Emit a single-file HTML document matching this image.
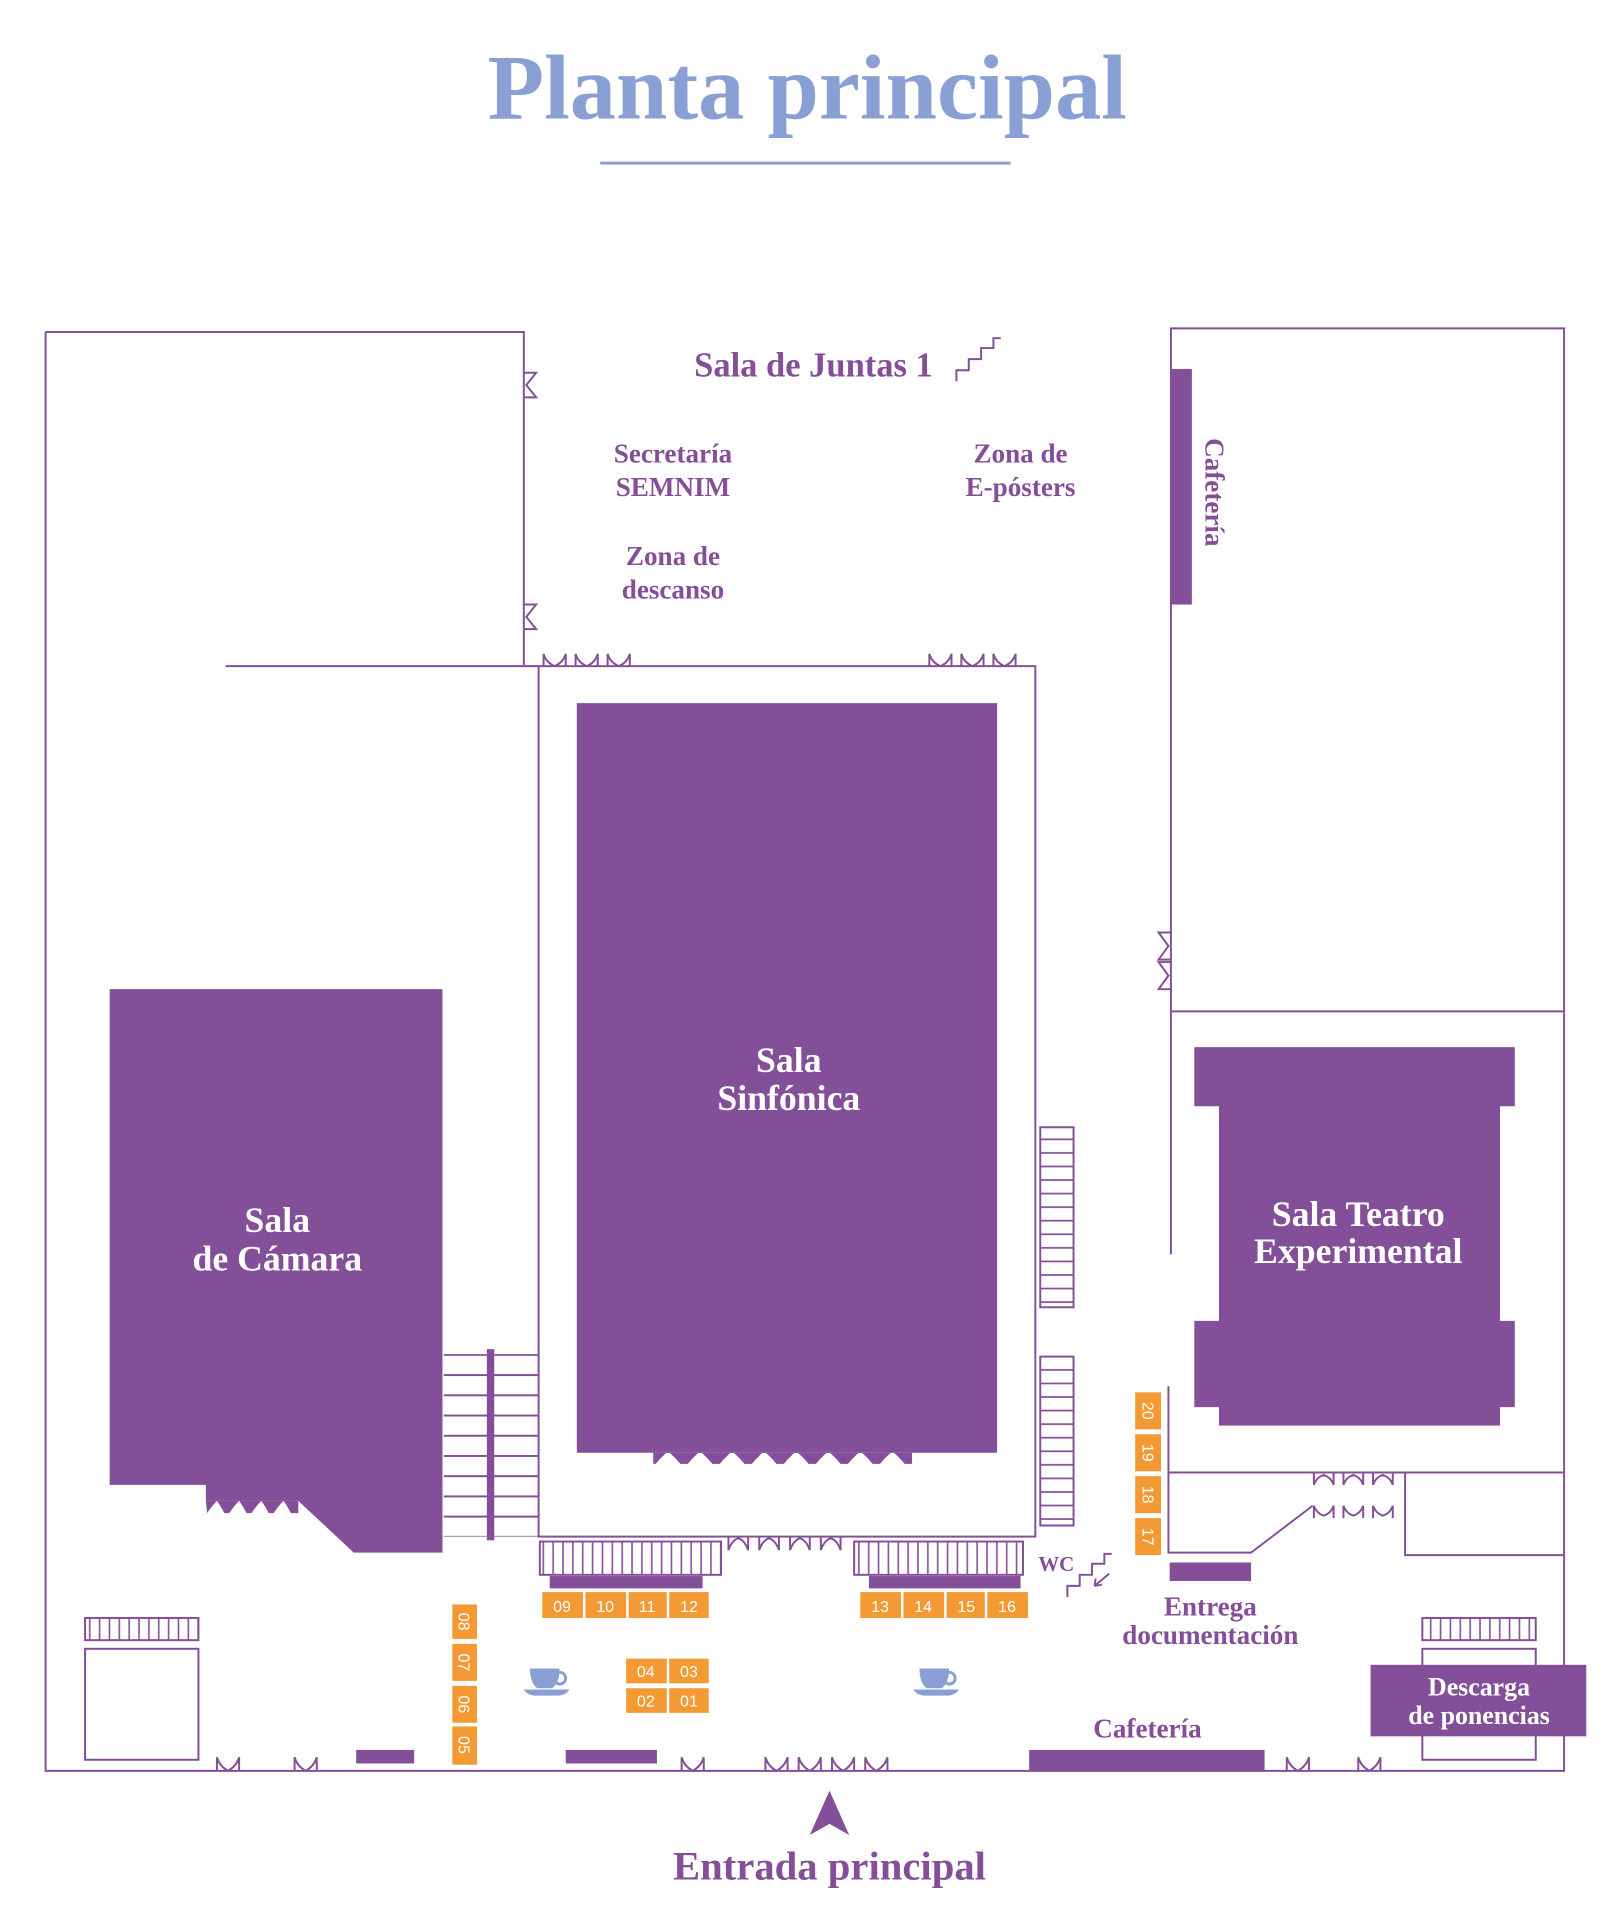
<!DOCTYPE html>
<html><head><meta charset="utf-8"><style>
html,body{margin:0;padding:0;background:#fff}
svg{display:block}
text{font-family:"Liberation Serif",serif}
.w{fill:none;stroke:#844f98;stroke-width:1.6}
.f{fill:#834f98}
.o{fill:#f39a35}
.n{font-family:"Liberation Sans",sans-serif;fill:#fff;font-size:13px;text-anchor:middle}
.l{fill:#844f98;font-size:22px;font-weight:bold;text-anchor:middle}
.t{fill:#fff;font-size:29px;font-weight:bold;text-anchor:middle}
</style></head><body>
<svg width="1614" height="1932" viewBox="0 0.7 1309.5 1567" preserveAspectRatio="none" xmlns="http://www.w3.org/2000/svg">
<defs>
<pattern id="hl" width="10" height="16.4" patternUnits="userSpaceOnUse"><line x1="0" y1="0.8" x2="10" y2="0.8" stroke="#844f98" stroke-width="1.6"/></pattern>
<pattern id="hs" width="10" height="11" patternUnits="userSpaceOnUse"><line x1="0" y1="0.8" x2="10" y2="0.8" stroke="#844f98" stroke-width="1.4"/></pattern>
<pattern id="vs" width="8" height="10" patternUnits="userSpaceOnUse"><line x1="0.8" y1="0" x2="0.8" y2="10" stroke="#844f98" stroke-width="1.3"/></pattern>
</defs>
<text x="655" y="97" font-size="75" font-weight="bold" fill="#8a9fd4" text-anchor="middle">Planta principal</text>
<line x1="487" y1="133" x2="820" y2="133" stroke="#8a9fd4" stroke-width="2.5"/>

<path class="w" d="M37,270 H425 V541 M37,270 V1437 H1269 V267 H950 V1018 M948,1125 V1260 H1015 L1065,1222 M183,541 H437 M950,821 H1269 M948,1195 H1269 M1140,1195 V1262 H1269"/>
<rect class="w" x="437" y="541" width="403" height="706"/>
<rect class="f" x="468" y="571" width="341" height="608"/>
<path class="f" d="M530,1179 H740 V1188 L734,1188 Q729,1182 724,1178 Q719,1182 714,1188 L708,1188 Q703,1182 698,1178 Q693,1182 688,1188 L682,1188 Q677,1182 672,1178 Q667,1182 662,1188 L656,1188 Q651,1182 646,1178 Q641,1182 636,1188 L630,1188 Q625,1182 620,1178 Q615,1182 610,1188 L604,1188 Q599,1182 594,1178 Q589,1182 584,1188 L578,1188 Q573,1182 568,1178 Q563,1182 558,1188 L552,1188 Q547,1182 542,1178 Q537,1182 532,1188 L530,1188 Z"/>
<text class="t" x="640" y="870">Sala</text><text class="t" x="640" y="901">Sinfónica</text>
<path class="f" d="M89,803 H359 V1260 H287 L242,1218 H167 V1205 H89 Z"/>
<path class="f" d="M167,1218 H242 V1228 L236,1228 Q233,1222 230,1218 Q226,1222 222,1228 L218,1228 Q215,1222 212,1218 Q208,1222 204,1228 L200,1228 Q197,1222 194,1218 Q190,1222 186,1228 L182,1228 Q179,1222 176,1218 Q172,1222 168,1228 Z"/>
<text class="t" x="225" y="1000">Sala</text><text class="t" x="225" y="1031">de Cámara</text>
<path class="f" d="M969,850 H1229 V898 H1217 V1072 H1229 V1142 H1217 V1157 H989 V1142 H969 V1072 H989 V898 H969 Z"/>
<text class="t" x="1102" y="995">Sala Teatro</text><text class="t" x="1102" y="1025">Experimental</text>

<rect x="360" y="1099" width="77" height="148" fill="url(#hl)"/>
<rect class="f" x="395" y="1095" width="6" height="155"/>
<rect x="844" y="915" width="27" height="146" class="w" style="fill:url(#hs)"/>
<rect x="844" y="1101" width="27" height="137" style="fill:url(#hs)" class="w"/>
<rect x="438" y="1251" width="147" height="27" style="fill:url(#vs)" class="w"/>
<rect x="693" y="1251" width="137" height="27" style="fill:url(#vs)" class="w"/>
<rect x="69" y="1313" width="92" height="18" style="fill:url(#vs)" class="w"/>
<rect x="1154" y="1313" width="92" height="18" style="fill:url(#vs)" class="w"/>
<rect class="w" x="69" y="1338" width="92" height="90"/>
<rect class="w" x="1154" y="1338" width="92" height="90"/>

<rect class="f" x="446" y="1279" width="124" height="10"/>
<rect class="f" x="705" y="1279" width="123" height="10"/>
<rect class="f" x="950" y="300" width="17" height="191"/>
<rect class="f" x="289" y="1420" width="47" height="11"/>
<rect class="f" x="459" y="1420" width="74" height="11"/>
<rect class="f" x="835" y="1420" width="191" height="17"/>
<rect class="f" x="949" y="1268" width="66" height="15"/>
<rect class="f" x="1112" y="1351" width="175" height="58"/>
<text x="1200" y="1376" font-size="21" font-weight="bold" fill="#fff" text-anchor="middle">Descarga</text>
<text x="1200" y="1399" font-size="21" font-weight="bold" fill="#fff" text-anchor="middle">de ponencias</text>

<g class="w" stroke-width="1.3">
<path d="M441,541 v-10 q2,7 9,10 q7,-3 9,-10 v10 M467,541 v-10 q2,7 9,10 q7,-3 9,-10 v10 M493,541 v-10 q2,7 9,10 q7,-3 9,-10 v10"/>
<path d="M754,541 v-10 q2,7 9,10 q7,-3 9,-10 v10 M780,541 v-10 q2,7 9,10 q7,-3 9,-10 v10 M806,541 v-10 q2,7 9,10 q7,-3 9,-10 v10"/>
<path d="M591,1247 v11 q2,-7 8,-10 q6,3 8,10 v-11 M616,1247 v11 q2,-7 8,-10 q6,3 8,10 v-11 M641,1247 v11 q2,-7 8,-10 q6,3 8,10 v-11 M666,1247 v11 q2,-7 8,-10 q6,3 8,10 v-11"/>
<path d="M176,1437 v-11 q2,7 9,11 q7,-4 9,-11 v11 M239,1437 v-11 q2,7 9,11 q7,-4 9,-11 v11 M553,1437 v-11 q2,7 9,11 q7,-4 9,-11 v11 M621,1437 v-11 q2,7 9,11 q7,-4 9,-11 v11 M648,1437 v-11 q2,7 9,11 q7,-4 9,-11 v11 M675,1437 v-11 q2,7 9,11 q7,-4 9,-11 v11 M702,1437 v-11 q2,7 9,11 q7,-4 9,-11 v11 M1044,1437 v-11 q2,7 9,11 q7,-4 9,-11 v11 M1102,1437 v-11 q2,7 9,11 q7,-4 9,-11 v11"/>
<path d="M1066,1195 v10 q2,-6 8,-8 q6,2 8,8 v-10 M1090,1195 v10 q2,-6 8,-8 q6,2 8,8 v-10 M1114,1195 v10 q2,-6 8,-8 q6,2 8,8 v-10"/>
<path d="M1066,1232 v-10 q2,6 8,8 q6,-2 8,-8 v10 M1090,1232 v-10 q2,6 8,8 q6,-2 8,-8 v10 M1114,1232 v-10 q2,6 8,8 q6,-2 8,-8 v10"/>
<path d="M425,303 h10 l-8,10 l8,10 h-10 M425,491 h10 l-8,10 l8,10 h-10 M950,757 h-10 l8,11 l-8,11 h10 M950,781 h-10 l8,11 l-8,11 h10"/>
<path d="M776,310 v-9 h10 v-9 h10 v-9 h10 v-8 h6"/>
<path d="M866,1296 v-9 h10 v-9 h10 v-9 h10 v-8 h6 M900,1277 l-12,10 M888,1287 l1,-6 M888,1287 l6,-1"/>
</g>

<g>
<rect class="o" x="440" y="1292" width="33" height="21"/><text class="n" x="456" y="1308">09</text>
<rect class="o" x="475" y="1292" width="33" height="21"/><text class="n" x="491" y="1308">10</text>
<rect class="o" x="510" y="1292" width="31" height="21"/><text class="n" x="525" y="1308">11</text>
<rect class="o" x="543" y="1292" width="32" height="21"/><text class="n" x="559" y="1308">12</text>
<rect class="o" x="698" y="1292" width="33" height="21"/><text class="n" x="714" y="1308">13</text>
<rect class="o" x="733" y="1292" width="33" height="21"/><text class="n" x="749" y="1308">14</text>
<rect class="o" x="768" y="1292" width="31" height="21"/><text class="n" x="784" y="1308">15</text>
<rect class="o" x="801" y="1292" width="33" height="21"/><text class="n" x="817" y="1308">16</text>
<rect class="o" x="508" y="1346" width="33" height="20"/><text class="n" x="524" y="1361">04</text>
<rect class="o" x="543" y="1346" width="32" height="20"/><text class="n" x="559" y="1361">03</text>
<rect class="o" x="508" y="1370" width="33" height="20"/><text class="n" x="524" y="1385">02</text>
<rect class="o" x="543" y="1370" width="32" height="20"/><text class="n" x="559" y="1385">01</text>
<rect class="o" x="367" y="1302" width="20" height="28"/><text class="n" transform="translate(372,1316) rotate(90)">08</text>
<rect class="o" x="367" y="1334" width="20" height="30"/><text class="n" transform="translate(372,1349) rotate(90)">07</text>
<rect class="o" x="367" y="1368" width="20" height="30"/><text class="n" transform="translate(372,1383) rotate(90)">06</text>
<rect class="o" x="367" y="1401" width="20" height="31"/><text class="n" transform="translate(372,1416) rotate(90)">05</text>
<rect class="o" x="921" y="1130" width="21" height="30"/><text class="n" transform="translate(927,1145) rotate(90)">20</text>
<rect class="o" x="921" y="1164" width="21" height="30"/><text class="n" transform="translate(927,1179) rotate(90)">19</text>
<rect class="o" x="921" y="1198" width="21" height="30"/><text class="n" transform="translate(927,1213) rotate(90)">18</text>
<rect class="o" x="921" y="1232" width="21" height="30"/><text class="n" transform="translate(927,1247) rotate(90)">17</text>
</g>

<g fill="#8a9fd4">
<path d="M430,1354 h24 q0,12 -6,16 h-12 q-6,-4 -6,-16 Z M453,1356 a6,6 0 1 1 -2,11 l1,-2.5 a3.5,3.5 0 1 0 1,-6 Z M425,1371 h37 q-3,5 -10,5 h-17 q-7,0 -10,-5 Z"/>
<path d="M746,1354 h24 q0,12 -6,16 h-12 q-6,-4 -6,-16 Z M769,1356 a6,6 0 1 1 -2,11 l1,-2.5 a3.5,3.5 0 1 0 1,-6 Z M741,1371 h37 q-3,5 -10,5 h-17 q-7,0 -10,-5 Z"/>
</g>

<text class="l" x="660" y="306" style="font-size:28px">Sala de Juntas 1</text>
<text class="l" x="546" y="376">Secretaría</text><text class="l" x="546" y="403">SEMNIM</text>
<text class="l" x="828" y="376">Zona de</text><text class="l" x="828" y="403">E-pósters</text>
<text class="l" x="546" y="459">Zona de</text><text class="l" x="546" y="486">descanso</text>
<text class="l" transform="translate(978,400) rotate(90)">Cafetería</text>
<text class="l" x="857" y="1275" style="font-size:17px">WC</text>
<text class="l" x="982" y="1311">Entrega</text><text class="l" x="982" y="1334">documentación</text>
<text class="l" x="931" y="1410">Cafetería</text>
<path class="f" d="M673,1453 L689,1489 L673,1480 L657,1489 Z"/>
<text class="l" x="673" y="1525" style="font-size:33px">Entrada principal</text>
</svg>
</body></html>
